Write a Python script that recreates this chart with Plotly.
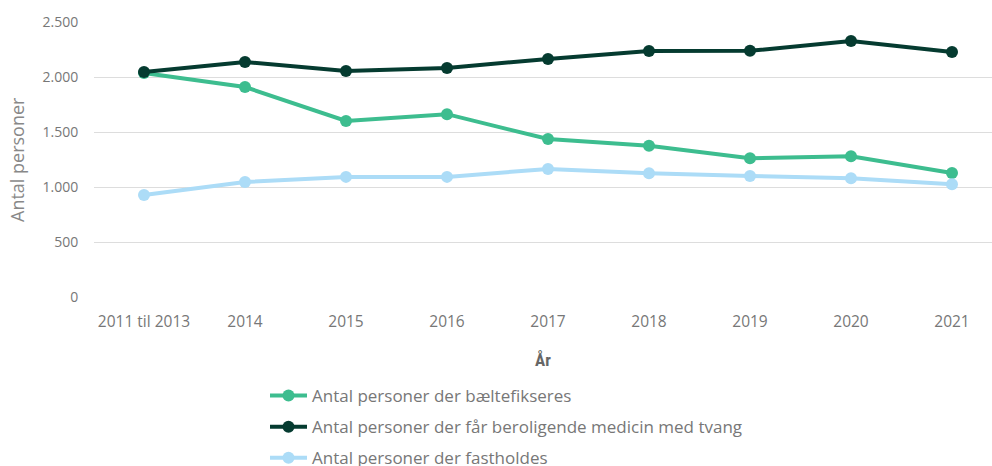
import plotly.graph_objects as go

categories = ["2011 til 2013", "2014", "2015", "2016", "2017", "2018", "2019", "2020", "2021"]
baeltefikseres = [2036, 1909, 1600, 1662, 1436, 1375, 1262, 1280, 1127]
beroligende = [2045, 2136, 2055, 2082, 2164, 2236, 2238, 2328, 2227]
fastholdes = [927, 1045, 1092, 1092, 1164, 1125, 1100, 1080, 1025]

series_names = [
    "Antal personer der bæltefikseres",
    "Antal personer der får beroligende medicin med tvang",
    "Antal personer der fastholdes",
]
colors = ["#3dbd8f", "#053b30", "#acdcf7"]

fig = go.Figure()
for i, (name, vals, col) in enumerate(zip(series_names, [baeltefikseres, beroligende, fastholdes], colors)):
    fig.add_trace(go.Scatter(
        x=list(range(len(categories))), y=vals, name=name, mode="lines+markers",
        line=dict(color=col, width=4), marker=dict(color=col, size=12),
        legendgroup=f"g{i}",
    ))

font_family = "'Open Sans', Lato, sans-serif"
fig.update_layout(
    width=992, height=466,
    margin=dict(l=94, r=0, t=22, b=169, autoexpand=False),
    paper_bgcolor="white", plot_bgcolor="white",
    separators=",.",
    font=dict(family=font_family, color="#777777", size=14),
    showlegend=True,
    legend=dict(
        orientation="v", xref="container", yref="container",
        x=265 / 992, y=1 - 378 / 466, xanchor="left", yanchor="top",
        font=dict(size=17, color="#777777"), tracegroupgap=6, itemwidth=37,
        bgcolor="rgba(0,0,0,0)",
    ),
    xaxis=dict(
        tickmode="array", tickvals=list(range(len(categories))), ticktext=categories,
        range=[-0.495, 8.396], showgrid=False, zeroline=False, showline=False,
        ticks="outside", ticklen=10, tickcolor="rgba(0,0,0,0)", tickangle=0,
        tickfont=dict(size=15.5, color="#777777"),
        title=dict(text="<b>År</b>", font=dict(family="'Roboto Condensed', Roboto, sans-serif", size=17, color="#666666"), standoff=23),
    ),
    yaxis=dict(
        range=[0, 2500], tickvals=[0, 500, 1000, 1500, 2000, 2500], tickformat=",d",
        showgrid=True, gridcolor="#dddddd", gridwidth=1, zeroline=False, showline=False,
        ticks="outside", ticklen=12, tickcolor="rgba(0,0,0,0)",
        tickfont=dict(size=14, color="#777777"),
    ),
    annotations=[dict(
        text="Antal personer", xref="paper", yref="paper",
        x=(17 - 94) / 898, y=(297 - 160) / 275, xanchor="center", yanchor="middle",
        textangle=-90, showarrow=False, font=dict(size=18, color="#888888"),
    )],
)

fig.write_html("out.html", config={"displayModeBar": False},
               post_script="document.body.style.margin='0';document.body.style.overflow='hidden';")
